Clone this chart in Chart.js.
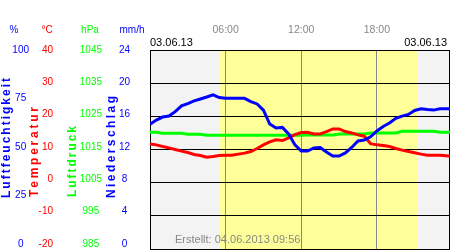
<!DOCTYPE html>
<html>
<head>
<meta charset="utf-8">
<script src="https://cdn.jsdelivr.net/npm/chart.js@4.4.1/dist/chart.umd.min.js"></script>
<style>
  html, body { margin: 0; padding: 0; background: #fff; }
  #wrap { width: 450px; height: 250px; }
</style>
</head>
<body>
<div id="wrap"><canvas id="wetterChart" width="450" height="250"></canvas></div>
<script>
// Messwerte 03.06.13, halbstuendlich
const hours = [0, 0.5, 1, 1.5, 2, 2.5, 3, 3.5, 4, 4.5, 5, 5.5, 6, 6.5, 7, 7.5, 8, 8.5, 9, 9.5,
  10, 10.5, 11, 11.5, 12, 12.5, 13, 13.5, 14, 14.5, 15, 15.5, 16, 16.5, 17, 17.5, 18, 18.5, 19, 19.5,
  20, 20.5, 21, 21.5, 22, 22.5, 23, 23.5, 23.8];
const humidity = [62.7, 64.8, 66.3, 66.8, 69.0, 71.9, 73.1, 74.4, 75.4, 76.4, 77.5, 76.1, 75.7, 75.7, 75.7, 75.7, 74.1, 72.9, 69.8, 62.8,
  60.8, 61.1, 57.8, 52.3, 49.2, 49.2, 50.8, 51.0, 48.7, 46.7, 46.7, 48.3, 51.0, 54.3, 54.8, 56.4, 59.3, 61.6, 63.3, 65.7,
  66.8, 67.6, 69.6, 70.5, 70.1, 69.8, 70.5, 70.5, 70.5];
const temperature = [11.7, 11.4, 10.9, 10.5, 10.0, 9.5, 9.1, 8.5, 8.2, 7.7, 7.9, 8.2, 8.3, 8.3, 8.6, 8.9, 9.4, 10.3, 11.4, 12.3,
  12.9, 12.7, 13.5, 14.5, 15.1, 15.2, 14.7, 14.7, 15.4, 16.2, 16.2, 15.4, 15.0, 14.4, 14.0, 11.75, 11.4, 11.2, 10.9, 10.3,
  9.8, 9.4, 9.0, 8.6, 8.3, 8.3, 8.3, 8.1, 8.0];
const pressure = [1020.2, 1020.2, 1019.9, 1019.9, 1019.9, 1019.9, 1019.6, 1019.6, 1019.6, 1019.3, 1019.3, 1019.3, 1019.3, 1019.3, 1019.3, 1019.3, 1019.3, 1019.3, 1019.3, 1019.3,
  1019.3, 1019.3, 1019.3, 1019.3, 1019.3, 1019.4, 1019.4, 1019.4, 1019.4, 1019.4, 1019.7, 1019.7, 1019.7, 1019.7, 1019.7, 1020.0, 1020.0, 1020.0, 1020.0, 1020.0,
  1020.5, 1020.5, 1020.5, 1020.5, 1020.5, 1020.5, 1020.2, 1020.2, 1020.2];

const timeTicks = [6, 12, 18];
const humidityTicks = [0, 25, 50, 75, 100];
const tempTicks = [-20, -10, 0, 10, 20, 30, 40];
const pressureTicks = [985, 995, 1005, 1015, 1025, 1035, 1045];
const rainTicks = [0, 4, 8, 12, 16, 20, 24];

const sunrise = 5.5;
const sunset = 21.23;
const dayLabel = '03.06.13';
const createdText = 'Erstellt: 04.06.2013 09:56';

const FONT = '"Liberation Sans", Arial, sans-serif';
const BLUE = '#0000ff', RED = '#ff0000', GREEN = '#00ff00', GRAY = '#888888';

function toPoints(values) {
  return hours.map((h, i) => ({ x: h, y: values[i] }));
}

// linke Beschriftungsachsen (leicht gestaucht wie im Original)
function labelAxis(list, min, max, color, weight, width, align) {
  return {
    type: 'linear', position: 'left', weight: weight, bounds: 'data',
    min: min, max: max,
    grid: { display: false, drawTicks: false },
    border: { display: false },
    ticks: {
      color: color, font: { family: FONT, size: 10 }, padding: 0, crossAlign: align, autoSkip: false,
      callback: v => String(v)
    },
    afterBuildTicks: axis => { axis.ticks = list.map(v => ({ value: v })); },
    afterFit: axis => {
      axis.width = width;
      axis.paddingTop = 0;
      axis.paddingBottom = 0;
    }
  };
}

const decor = {
  id: 'decor',
  beforeDraw(chart) {
    const { ctx, chartArea: a, scales: { x } } = chart;
    ctx.save();
    ctx.fillStyle = '#f3f3f3';
    ctx.fillRect(a.left, a.top, a.right - a.left, a.bottom - a.top);
    const x0 = x.getPixelForValue(sunrise), x1 = x.getPixelForValue(sunset);
    ctx.fillStyle = '#ffff99';
    ctx.fillRect(x0, a.top, x1 - x0, a.bottom - a.top);
    ctx.restore();
  },
  beforeDatasetsDraw(chart) {
    const { ctx, chartArea: a } = chart;
    ctx.save();
    ctx.strokeStyle = '#000';
    ctx.lineWidth = 1;
    ctx.beginPath();
    ctx.moveTo(a.left + 0.5, a.top); ctx.lineTo(a.left + 0.5, a.bottom);
    ctx.moveTo(a.right - 0.5, a.top); ctx.lineTo(a.right - 0.5, a.bottom);
    ctx.stroke();
    ctx.restore();
  },
  afterDraw(chart) {
    const { ctx, chartArea: a } = chart;
    ctx.save();
    ctx.textBaseline = 'middle';
    // Einheiten
    ctx.font = '10px ' + FONT;
    ctx.textAlign = 'center';
    [['%', 14, BLUE], ['°C', 47, RED], ['hPa', 90, GREEN], ['mm/h', 132, BLUE]].forEach(u => {
      ctx.fillStyle = u[2];
      ctx.fillText(u[0], u[1], 30);
    });
    // Datum
    ctx.font = '11px ' + FONT;
    ctx.fillStyle = '#000';
    ctx.textAlign = 'left';
    ctx.fillText(dayLabel, a.left, 43);
    ctx.textAlign = 'right';
    ctx.fillText(dayLabel, a.right - 3, 43);
    // Erstellt
    ctx.fillStyle = GRAY;
    ctx.textAlign = 'left';
    ctx.fillText(createdText, 175, 240);
    // gedrehte Achsentitel
    ctx.font = 'bold 12px ' + FONT;
    ctx.textBaseline = 'alphabetic';
    [['Luftfeuchtigkeit', 9.5, 198, 120, BLUE], ['Temperatur', 38, 197, 90, RED],
     ['Luftdruck', 76, 197, 71, GREEN], ['Niederschlag', 115, 198, 102, BLUE]].forEach(t => {
      ctx.save();
      ctx.letterSpacing = '0px';
      const w = ctx.measureText(t[0]).width;
      ctx.letterSpacing = ((t[3] - w) / (t[0].length - 1)).toFixed(2) + 'px';
      ctx.translate(t[1], t[2]);
      ctx.rotate(-Math.PI / 2);
      ctx.fillStyle = t[4];
      ctx.fillText(t[0], 0, 0);
      ctx.restore();
    });
    ctx.restore();
  }
};

const ctx = document.getElementById('wetterChart').getContext('2d');
new Chart(ctx, {
  type: 'line',
  data: {
    datasets: [
      { label: 'Luftfeuchtigkeit', data: toPoints(humidity), yAxisID: 'yHum', borderColor: BLUE },
      { label: 'Temperatur', data: toPoints(temperature), yAxisID: 'yTemp', borderColor: RED },
      { label: 'Luftdruck', data: toPoints(pressure), yAxisID: 'yPres', borderColor: GREEN }
    ]
  },
  options: {
    responsive: false,
    animation: false,
    layout: { padding: { bottom: 1 } },
    elements: {
      line: { borderWidth: 3, tension: 0, fill: false },
      point: { radius: 0 }
    },
    plugins: { legend: { display: false }, tooltip: { enabled: false } },
    scales: {
      x: {
        type: 'linear', position: 'top', min: 0, max: 23.8,
        grid: { color: GRAY, drawTicks: false },
        border: { display: false },
        ticks: {
          color: GRAY, font: { family: FONT, size: 10.5 }, padding: 14,
          callback: v => String(v).padStart(2, '0') + ':00'
        },
        afterBuildTicks: axis => { axis.ticks = timeTicks.map(v => ({ value: v })); },
        afterFit: axis => { axis.height = 50; }
      },
      yHumLabel: labelAxis(humidityTicks, -2.58, 100, BLUE, 4, 29, 'center'),
      yTempLabel: labelAxis(tempTicks, -21.55, 40, RED, 3, 24, 'near'),
      yPresLabel: labelAxis(pressureTicks, 983.45, 1045, GREEN, 2, 49, 'center'),
      yRainLabel: labelAxis(rainTicks, -0.62, 24, BLUE, 1, 28, 'center'),
      yTemp: {
        type: 'linear', position: 'left', weight: 0, min: -20, max: 40,
        grid: { color: '#000', drawTicks: false },
        border: { display: false },
        ticks: { display: false, stepSize: 10 },
        afterFit: axis => {
          axis.width = 20;
          axis.paddingTop = 0;
          axis.paddingBottom = 0;
        }
      },
      yHum: { type: 'linear', display: false, min: 0, max: 100 },
      yPres: { type: 'linear', display: false, min: 985, max: 1045 }
    }
  },
  plugins: [decor]
});
</script>
</body>
</html>
